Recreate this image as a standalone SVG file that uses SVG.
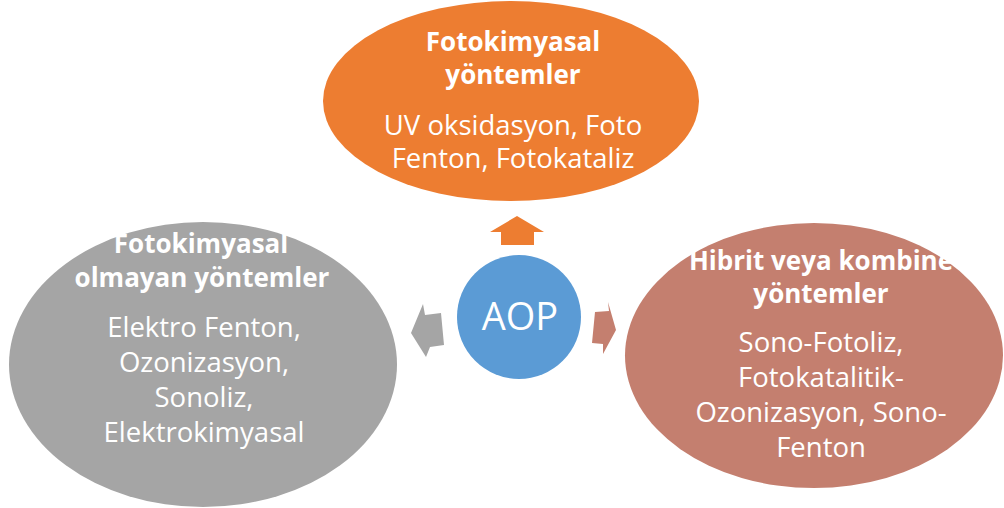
<svg xmlns="http://www.w3.org/2000/svg" width="1004" height="508" viewBox="0 0 1004 508">
<style>
text{font-family:"Open Sans","Noto Sans",sans-serif;fill:#fff;text-anchor:middle}
.h{font-weight:bold;font-size:26px}
.b{font-size:27.5px}
.aop{font-size:38px}
</style>
<rect width="1004" height="508" fill="#fff"/>
<g id="node-top">
<ellipse cx="511" cy="101" rx="188" ry="100" fill="#ED7D31"/>
<text class="h" x="513" y="51">Fotokimyasal</text>
<text class="h" x="513" y="84">yöntemler</text>
<text class="b" x="513" y="135">UV oksidasyon, Foto</text>
<text class="b" x="513" y="168">Fenton, Fotokataliz</text>
</g>
<g id="node-left">
<ellipse cx="203" cy="364.5" rx="194" ry="142.5" fill="#A5A5A5"/>
<text class="h" x="201" y="253">Fotokimyasal</text>
<text class="h" x="202" y="287">olmayan yöntemler</text>
<text class="b" x="204" y="337">Elektro Fenton,</text>
<text class="b" x="204" y="372">Ozonizasyon,</text>
<text class="b" x="204" y="407">Sonoliz,</text>
<text class="b" x="204" y="442">Elektrokimyasal</text>
</g>
<g id="node-right">
<ellipse cx="814" cy="355.5" rx="189" ry="132.5" fill="#C47F6F"/>
<text class="h" x="821" y="270">Hibrit veya kombine</text>
<text class="h" x="821" y="303">yöntemler</text>
<text class="b" x="821" y="352">Sono-Fotoliz,</text>
<text class="b" x="821" y="387">Fotokatalitik-</text>
<text class="b" x="821" y="422">Ozonizasyon, Sono-</text>
<text class="b" x="821" y="457">Fenton</text>
</g>
<g id="connectors">
<polygon points="517,216 544,232 534,232 534,245 501,245 501,232 490,232" fill="#ED7D31"/>
<polygon points="411,333 423,304 425,315 441,313 444,345 430,347 426,357" fill="#A5A5A5"/>
<polygon points="616,330 608,302 609,311 595,312 592,343 603,344 603,354" fill="#C47F6F"/>
</g>
<g id="node-aop">
<circle cx="519" cy="317" r="62" fill="#5B9BD5"/>
<text class="aop" x="520" y="330">AOP</text>
</g>
</svg>
